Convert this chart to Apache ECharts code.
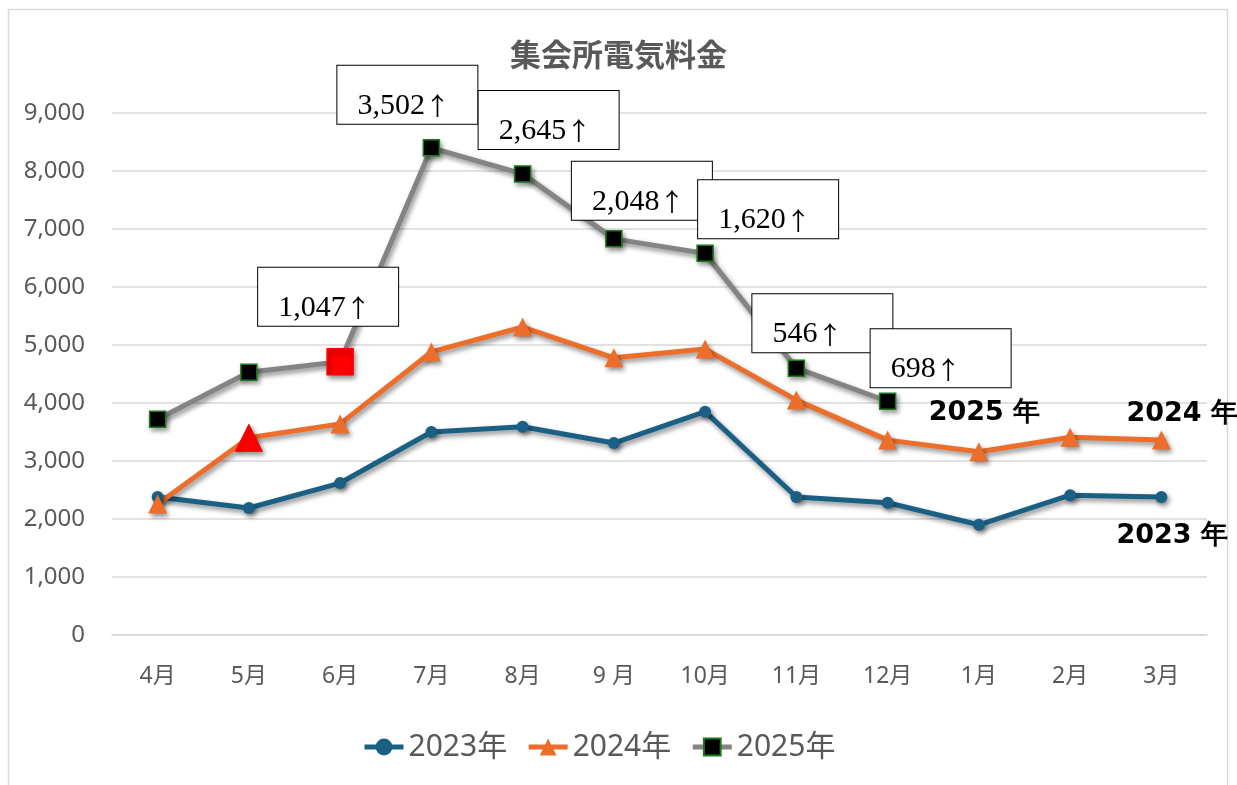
<!DOCTYPE html>
<html>
<head>
	<meta charset="utf-8" />
	<title>集会所電気料金</title>
	<style>
		* { padding: 0; margin: 0; }
		body { background: #fff; }
	</style>
</head>
<body>
	<div id="main" style="width:1237px;height:785px;"></div>
	<script src="https://cdn.jsdelivr.net/npm/echarts@6/dist/echarts.min.js"></script>
	<script type="text/javascript">
		// 月(4月始まり)
		var months = ['4月', '5月', '6月', '7月', '8月', '9 月', '10月', '11月', '12月', '1月', '2月', '3月'];
		// 各年度の電気料金
		var fee2023 = [2380, 2190, 2620, 3500, 3590, 3310, 3850, 2380, 2280, 1900, 2410, 2380];
		var fee2024 = [2260, 3400, 3640, 4880, 5310, 4780, 4930, 4050, 3360, 3160, 3410, 3360];
		var fee2025 = [3720, 4530, 4710, 8400, 7950, 6830, 6580, 4600, 4030];
		// 前年比の吹き出し
		var diffLabels = ['', '', '1,047↑', '3,502↑', '2,645↑', '2,048↑', '1,620↑', '546↑', '698↑'];
		var yTicks = { min: 0, max: 9000, interval: 1000 };

		// 吹き出しの位置(点からのずれ)
		var diffOffsets = [null, null, [-82, -65], [-94, -53], [-44, -54], [-42, -48], [-7, -44], [-44, -45], [-17, -43]];

		var gray = '#595959';
		var shadow = { shadowColor: 'rgba(0,0,0,0.45)', shadowBlur: 5, shadowOffsetX: 2, shadowOffsetY: 3 };

		var chart = echarts.init(document.getElementById('main'));

		var data2024 = fee2024.map(function (v, i) {
			if (i === 1) {
				return { value: v, symbolSize: 27, itemStyle: { color: '#ff0000', borderColor: '#ff0000' } };
			}
			return v;
		});

		var data2025 = fee2025.map(function (v, i) {
			var item = { value: v };
			if (i === 2) {
				item.symbolSize = 26;
				item.itemStyle = { color: '#ff0000', borderColor: '#ff0000' };
			}
			if (diffLabels[i]) {
				var s = diffLabels[i];
				item.label = {
					show: true,
					// 数字と矢印でフォントを分ける
					formatter: '{n|' + s.slice(0, -1) + '}{a|' + s.slice(-1) + '}',
					position: 'inside',
					align: 'left',
					verticalAlign: 'middle',
					offset: diffOffsets[i],
					backgroundColor: '#fff',
					borderColor: '#000',
					borderWidth: 1,
					padding: [22, 20, 0, 20],
					width: 100,
					height: 36,
					rich: {
						n: { fontFamily: 'Liberation Serif', fontSize: 30, lineHeight: 36, color: '#000' },
						a: { fontFamily: 'Noto Sans CJK JP', fontSize: 25, lineHeight: 36, color: '#000' }
					}
				};
			}
			return item;
		});

		// 年ラベル(線の終わり)
		function endMark(name, xIdx, yVal, off) {
			return {
				symbol: 'circle',
				symbolSize: 1,
				itemStyle: { color: 'rgba(0,0,0,0)', borderWidth: 0, shadowBlur: 0 },
				label: {
					show: true,
					formatter: name,
					position: 'inside',
					align: 'left',
					verticalAlign: 'middle',
					offset: off,
					fontFamily: 'DejaVu Sans',
					fontWeight: 'bold',
					fontSize: 27,
					color: '#000'
				},
				data: [{ coord: [months[xIdx], yVal] }]
			};
		}

		var option = {
			animation: false,
			title: {
				text: '集会所電気料金',
				left: 'center',
				top: 34,
				textStyle: { fontFamily: 'Noto Sans CJK JP', fontWeight: 'bold', fontSize: 31, color: gray }
			},
			graphic: [{
				type: 'rect',
				shape: { x: 8.5, y: 9.5, width: 1219, height: 800 },
				style: { fill: 'none', stroke: '#d9d9d9', lineWidth: 1.5 },
				silent: true
			}],
			legend: {
				left: 357,
				top: 727,
				itemWidth: 39,
				itemHeight: 21,
				itemGap: 19,
				lineStyle: { width: 5 },
				textStyle: { fontFamily: 'Noto Sans, Noto Sans CJK JP', fontSize: 30, color: gray },
				data: ['2023年', '2024年', '2025年']
			},
			grid: { left: 112, right: 30, top: 113, bottom: 150 },
			xAxis: {
				type: 'category',
				data: months,
				axisLine: { show: true, lineStyle: { color: '#d9d9d9', width: 1.5 } },
				axisTick: { show: false },
				axisLabel: { margin: 30, fontFamily: 'Noto Sans, Noto Sans CJK JP', fontSize: 23, color: gray }
			},
			yAxis: {
				type: 'value',
				min: yTicks.min,
				max: yTicks.max,
				interval: yTicks.interval,
				axisLine: { show: false },
				axisTick: { show: false },
				splitLine: { lineStyle: { color: '#d9d9d9', width: 1.5 } },
				axisLabel: {
					margin: 27,
					fontFamily: 'Noto Sans',
					fontSize: 24,
					color: gray,
					formatter: function (v) { return v.toLocaleString('en-US'); }
				}
			},
			series: [
				{
					name: '2023年',
					type: 'line',
					data: fee2023,
					symbol: 'circle',
					symbolSize: 12,
					lineStyle: Object.assign({ color: '#1a6085', width: 5 }, shadow),
					itemStyle: Object.assign({ color: '#1a6085' }, shadow),
					markPoint: endMark('2023 年', 11, fee2023[11], [-45, 39])
				},
				{
					name: '2024年',
					type: 'line',
					data: data2024,
					symbol: 'triangle',
					symbolSize: 19,
					lineStyle: Object.assign({ color: '#ed6d2b', width: 5 }, shadow),
					itemStyle: Object.assign({ color: '#ed6d2b' }, shadow),
					markPoint: endMark('2024 年', 11, fee2024[11], [-35, -26])
				},
				{
					name: '2025年',
					type: 'line',
					data: data2025,
					symbol: 'rect',
					symbolSize: 16,
					lineStyle: Object.assign({ color: '#848484', width: 5 }, shadow),
					itemStyle: Object.assign({ color: '#000', borderColor: '#1e7a1e', borderWidth: 1.5 }, shadow),
					markPoint: endMark('2025 年', 8, fee2025[8], [41, 12])
				}
			]
		};
		chart.setOption(option);
	</script>
</body>
</html>
